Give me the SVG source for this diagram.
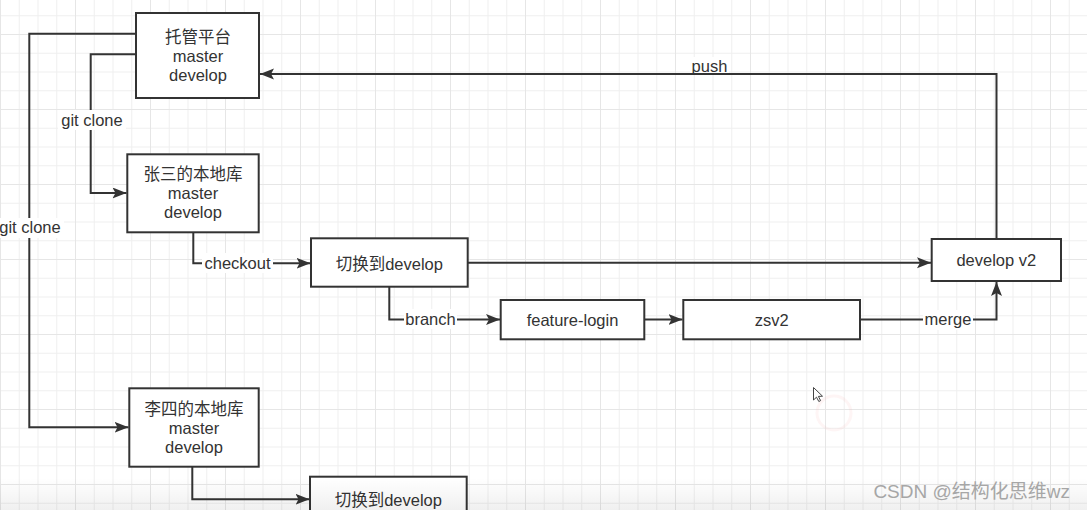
<svg xmlns="http://www.w3.org/2000/svg" width="1087" height="510" viewBox="0 0 1087 510">
<style>
.box{fill:#ffffff;stroke:#333333;stroke-width:2}
.t{font-family:"Liberation Sans","Noto Sans CJK SC",sans-serif;font-size:16.5px;fill:#333333;text-anchor:middle}
.ln{fill:none;stroke:#333333;stroke-width:2}
.lbg{fill:#ffffff}
.wm{font-family:"Liberation Sans","Noto Sans CJK SC",sans-serif;font-size:19px;fill:#a6a6a6;text-anchor:end}
</style>
<defs>
<pattern id="grid" patternUnits="userSpaceOnUse" x="0" y="34" width="75" height="75">
<rect x="0" y="0" width="75" height="75" fill="#ffffff"/>
<g fill="#f0f0f0">
<rect x="18.75" y="0" width="1" height="75"/>
<rect x="37.5" y="0" width="1" height="75"/>
<rect x="56.25" y="0" width="1" height="75"/>
<rect x="0" y="18.75" width="75" height="1"/>
<rect x="0" y="37.5" width="75" height="1"/>
<rect x="0" y="56.25" width="75" height="1"/>
</g>
<g fill="#e6e6e6">
<rect x="0" y="0" width="1" height="75"/>
<rect x="0" y="0" width="75" height="1"/>
</g>
</pattern>
<marker id="arr" markerUnits="userSpaceOnUse" markerWidth="15" markerHeight="12" refX="14" refY="5.5" orient="auto">
<path d="M0,0 L14,5.5 L0,11 L3,5.5 z" fill="#333333"/>
</marker>
<linearGradient id="shade" x1="0" y1="0" x2="0" y2="1">
<stop offset="0" stop-color="#000000" stop-opacity="0"/>
<stop offset="1" stop-color="#000000" stop-opacity="0.06"/>
</linearGradient>
</defs>
<rect x="0" y="0" width="1087" height="510" fill="url(#grid)"/>

<g id="connectors">
<path class="ln" d="M136,33.7 H29.3 V427.3 H128.5" marker-end="url(#arr)"/>
<path class="ln" d="M136,54.3 H90.7 V193 H126.5" marker-end="url(#arr)"/>
<path class="ln" d="M193.3,232.3 V263.3 H310.5" marker-end="url(#arr)"/>
<path class="ln" d="M389.3,286.7 V319.5 H500" marker-end="url(#arr)"/>
<path class="ln" d="M644.3,319.5 H682.5" marker-end="url(#arr)"/>
<path class="ln" d="M860,319.5 H996.5 V282" marker-end="url(#arr)"/>
<path class="ln" d="M467.7,262.7 H931" marker-end="url(#arr)"/>
<path class="ln" d="M996.5,239 V74 H260" marker-end="url(#arr)"/>
<path class="ln" d="M192.3,466.7 V499.3 H309.5" marker-end="url(#arr)"/>
<g id="labels">
<rect class="lbg" x="58" y="110" width="68" height="20"/>
<text class="t" x="92" y="126">git clone</text>
<rect class="lbg" x="-4" y="218" width="68" height="20"/>
<text class="t" x="30" y="233.3">git clone</text>
<rect class="lbg" x="202" y="253" width="71" height="20"/>
<text class="t" x="237.5" y="269.3">checkout</text>
<rect class="lbg" x="404" y="309" width="53" height="20"/>
<text class="t" x="430.5" y="325.3">branch</text>
<rect class="lbg" x="923" y="310" width="50" height="20"/>
<text class="t" x="948" y="325">merge</text>
<rect class="lbg" x="690" y="57" width="39" height="16"/>
<text class="t" x="709.5" y="72">push</text>
</g>
</g>

<g id="node-tuoguan">
<rect class="box" x="136" y="13" width="123" height="85"/>
<text class="t" x="198" y="43">托管平台</text>
<text class="t" x="198" y="62">master</text>
<text class="t" x="198" y="81">develop</text>
</g>
<g id="node-zhangsan">
<rect class="box" x="127.3" y="154.3" width="131.4" height="78"/>
<text class="t" x="193" y="180">张三的本地库</text>
<text class="t" x="193" y="199">master</text>
<text class="t" x="193" y="218">develop</text>
</g>
<g id="node-switch1">
<rect class="box" x="311" y="238.3" width="156.7" height="48.4"/>
<text class="t" x="389.3" y="269.5">切换到develop</text>
</g>
<g id="node-feature">
<rect class="box" x="500.7" y="300" width="143.6" height="39.3"/>
<text class="t" x="572.5" y="325.7">feature-login</text>
</g>
<g id="node-zsv2">
<rect class="box" x="683.3" y="300" width="176.7" height="39.3"/>
<text class="t" x="771.7" y="325.7">zsv2</text>
</g>
<g id="node-developv2">
<rect class="box" x="931.7" y="239" width="129.3" height="42"/>
<text class="t" x="996.3" y="265.7">develop v2</text>
</g>
<g id="node-lisi">
<rect class="box" x="129.3" y="388.3" width="129.4" height="78.4"/>
<text class="t" x="194" y="415">李四的本地库</text>
<text class="t" x="194" y="434">master</text>
<text class="t" x="194" y="453">develop</text>
</g>
<g id="node-switch2">
<rect class="box" x="310" y="476.7" width="156.7" height="45"/>
<text class="t" x="388.3" y="506">切换到develop</text>
</g>

<circle cx="834" cy="413" r="17" fill="none" stroke="#f4b0b0" stroke-width="3" opacity="0.12"/>
<path d="M813.5,387.5 L813.5,400 L816.5,397.2 L818.8,401.5 L820.6,400.6 L818.4,396.4 L822.5,396.2 Z" fill="#ffffff" stroke="#444444" stroke-width="1"/>

<rect x="0" y="478" width="1087" height="32" fill="url(#shade)"/>
<text class="wm" x="1070" y="498">CSDN @结构化思维wz</text>
</svg>
